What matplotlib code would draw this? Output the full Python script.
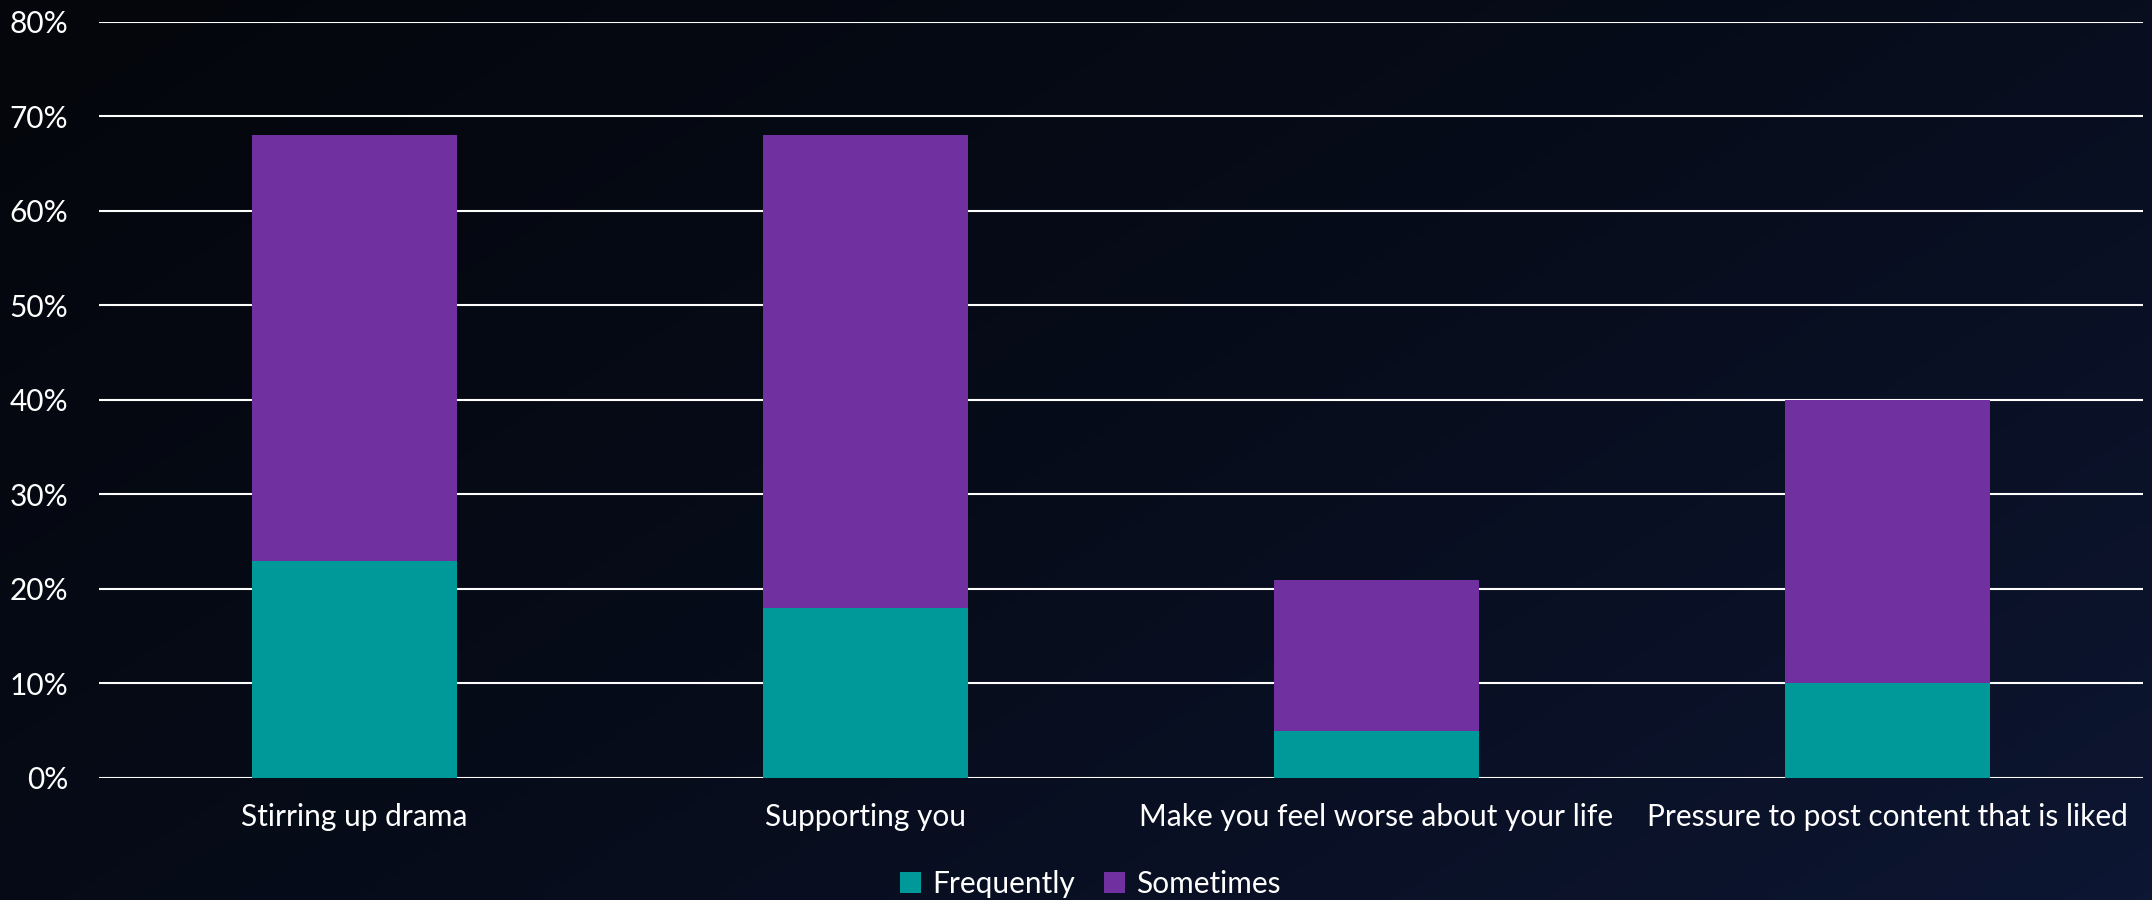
import numpy as np
import matplotlib
matplotlib.use('Agg')
import matplotlib.pyplot as plt
from matplotlib.ticker import PercentFormatter
from matplotlib.colors import LinearSegmentedColormap

plt.rcParams['font.family'] = ['Lato', 'DejaVu Sans']

# data (percent)
categories = ['Stirring up drama', 'Supporting you',
              'Make you feel worse about your life', 'Pressure to post content that is liked']
frequently = [23, 18, 5, 10]
sometimes = [45, 50, 16, 30]
yticks = [0, 10, 20, 30, 40, 50, 60, 70, 80]

teal = '#009999'
purple = '#7030A0'

fig = plt.figure(figsize=(21.52, 9), dpi=100)

# dark diagonal gradient background
bg = fig.add_axes([0, 0, 1, 1], zorder=-10)
gx, gy = np.meshgrid(np.linspace(0, 1, 400), np.linspace(0, 1, 200))
grad = (gx * 0.6 + gy * 0.4)
cmap = LinearSegmentedColormap.from_list('bg', ['#04060b', '#070c1a', '#0d1632'])
bg.imshow(grad, cmap=cmap, aspect='auto', extent=[0, 1, 0, 1], origin='upper')
bg.axis('off')

ax = fig.add_axes([0.046, 0.1356, 0.9498, 0.84])
ax.patch.set_alpha(0)

x = np.arange(len(categories))
ax.bar(x, frequently, width=0.4, color=teal, label='Frequently', zorder=3)
ax.bar(x, sometimes, width=0.4, bottom=frequently, color=purple, label='Sometimes', zorder=3)

ax.set_xlim(-0.5, len(categories) - 0.5)
ax.set_ylim(0, 80)
ax.set_yticks(yticks)
ax.yaxis.set_major_formatter(PercentFormatter(decimals=0))
ax.grid(axis='y', color='white', linewidth=1.5, zorder=1)
ax.set_axisbelow(True)
for s in ax.spines.values():
    s.set_visible(False)
ax.tick_params(axis='both', length=0, colors='white', labelsize=21.5)
ax.tick_params(axis='y', pad=22)
ax.tick_params(axis='x', pad=18)
ax.set_xticks(x)
ax.set_xticklabels(categories)

leg = ax.legend(loc='center', bbox_to_anchor=(0.485, -0.14), ncol=2, frameon=False,
                fontsize=21.5, handlelength=0.7, handleheight=0.7, handletextpad=0.35,
                columnspacing=1.0, borderpad=0)
for t in leg.get_texts():
    t.set_color('white')

fig.savefig('out.png', dpi=100)
